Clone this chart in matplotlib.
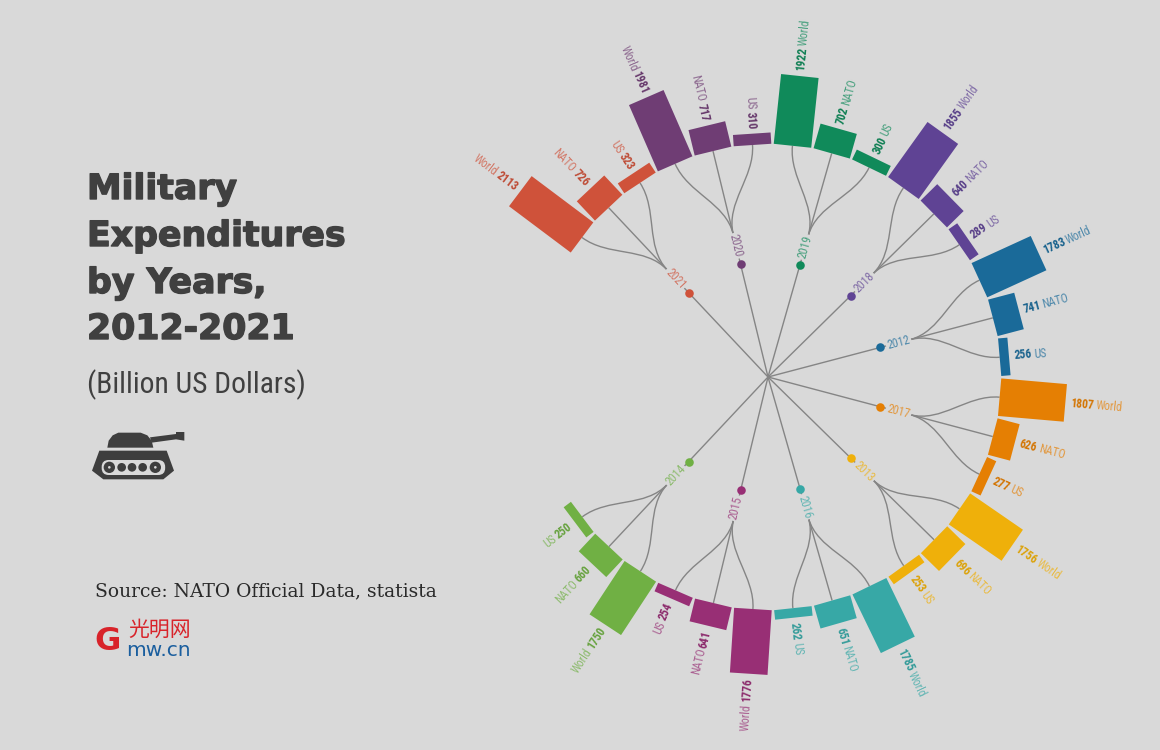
import math
import matplotlib
matplotlib.use("Agg")
import matplotlib.pyplot as plt
import matplotlib.patheffects as pe
from matplotlib import font_manager as fm
from matplotlib.patches import Circle, FancyBboxPatch, PathPatch, Polygon
from matplotlib.path import Path
from matplotlib.textpath import TextPath

# clockwise order round the circle, starting at the upper right
years = [2012, 2017, 2013, 2016, 2015, 2014, 2021, 2020, 2019, 2018]
world = [1783, 1807, 1756, 1785, 1776, 1750, 2113, 1981, 1922, 1855]
nato = [741, 626, 696, 651, 641, 660, 726, 717, 702, 640]
us = [256, 277, 253, 262, 254, 250, 323, 310, 300, 289]
names = ["World", "NATO", "US"]
colors = ["#1a6a99", "#e57f03", "#efb00a", "#37a8a6", "#982f75",
          "#70b044", "#cf523a", "#6f3d74", "#108a5a", "#5f4394"]
title_lines = ["Military", "Expenditures", "by Years,", "2012-2021"]

BG = "#d9d9d9"
GREY = "#858585"
CX, CY = 768, 377
R_NODE, R_LINK, R_BAR = 116, 147, 232.5
BAR_W = 37.7
PX_PER_UNIT = 0.0365
STEP = 9.86
START = -24.6
GAP = 64.0

installed = {f.name for f in fm.fontManager.ttflist}
narrow = "Roboto"
for cand in ["Roboto Condensed", "Liberation Sans Narrow", "Roboto"]:
    if cand in installed:
        narrow = cand
        break


def polar(r, a):
    t = math.radians(a)
    return CX + r * math.cos(t), CY + r * math.sin(t)


def text_w(s, size, weight):
    fp = fm.FontProperties(family=narrow, weight=weight)
    return TextPath((0, 0), s, size=size, prop=fp).get_extents().width * 100 / 72


def text_rot(a):
    # keep the label readable on the left half
    if math.cos(math.radians(a)) >= 0:
        return -a, "left"
    return 180 - a, "right"


def rgb_mix(c, k):
    rgb = matplotlib.colors.to_rgb(c)
    bg = matplotlib.colors.to_rgb(BG)
    return tuple(k * x + (1 - k) * y for x, y in zip(rgb, bg))


def rgb_dark(c, k):
    return tuple(x * k for x in matplotlib.colors.to_rgb(c))


fig = plt.figure(figsize=(11.6, 7.5), dpi=100, facecolor=BG)
ax = fig.add_axes([0, 0, 1, 1])
ax.set_xlim(0, 1160)
ax.set_ylim(750, 0)
ax.axis("off")

for g, year in enumerate(years):
    vals = [world[g], nato[g], us[g]]
    col = colors[g]
    base = START + g * 3 * STEP
    if g >= 6:
        base += GAP
    mid = base + STEP

    # trunk, node and year label
    x0, y0 = polar(R_LINK - 5, mid)
    ax.plot([CX, x0], [CY, y0], color=GREY, lw=1.0, zorder=1)
    nx, ny = polar(R_NODE, mid)
    ax.scatter([nx], [ny], s=38, color=col, zorder=4, linewidths=0)
    rot, _ = text_rot(mid)
    lx, ly = polar(135, mid)
    ax.text(lx, ly, str(year), rotation=rot, rotation_mode="anchor", ha="center",
            va="center", fontsize=8.6, family=narrow, color=rgb_mix(col, 0.72), zorder=3,
            bbox=dict(facecolor=BG, edgecolor="none", pad=1.0))

    for i, v in enumerate(vals):
        a = base + i * STEP
        # radial link from the year to the bar
        dr = R_BAR - R_LINK
        pts = [polar(R_LINK, mid), polar(R_LINK + 0.38 * dr, mid),
               polar(R_BAR - 0.38 * dr, a), polar(R_BAR, a)]
        link = Path(pts, [Path.MOVETO, Path.CURVE4, Path.CURVE4, Path.CURVE4])
        ax.add_patch(PathPatch(link, fc="none", ec=GREY, lw=1.0, zorder=1))

        # the bar is a plain rectangle turned to the angle
        length = v * PX_PER_UNIT
        t = math.radians(a)
        ux, uy = math.cos(t), math.sin(t)
        vx, vy = -uy, ux
        bx, by = CX + R_BAR * ux, CY + R_BAR * uy
        hw = BAR_W / 2
        corners = [(bx - vx * hw, by - vy * hw),
                   (bx + vx * hw, by + vy * hw),
                   (bx + vx * hw + ux * length, by + vy * hw + uy * length),
                   (bx - vx * hw + ux * length, by - vy * hw + uy * length)]
        ax.add_patch(Polygon(corners, closed=True, fc=col, ec="none", zorder=2))

        # value in bold next to the bar, then the name
        rot, ha = text_rot(a)
        fs = 8.4
        r1 = R_BAR + length + 5
        tx, ty = polar(r1, a)
        ax.text(tx, ty, str(v), rotation=rot, rotation_mode="anchor", ha=ha, va="center",
                fontsize=fs, fontweight="bold", family=narrow, color=rgb_dark(col, 0.92), zorder=3)
        r2 = r1 + text_w(str(v), fs, "bold") + 3
        tx, ty = polar(r2, a)
        ax.text(tx, ty, names[i], rotation=rot, rotation_mode="anchor", ha=ha, va="center",
                fontsize=fs, family=narrow, color=rgb_mix(col, 0.72), zorder=3)

# left hand text
title_y = [199, 246, 293, 339]
for s, y in zip(title_lines, title_y):
    ax.text(87, y, s, fontsize=25, fontweight="bold", family="DejaVu Sans",
            color="#404040", va="baseline", ha="left",
            path_effects=[pe.withStroke(linewidth=1.0, foreground="#404040")])
ax.text(87, 393, "(Billion US Dollars)", fontsize=21.3, family=narrow, color="#404040",
        va="baseline", ha="left")
ax.text(95, 591, "Source: NATO Official Data, statista", fontsize=13.5, family="DejaVu Serif",
        color="#2a2a2a", va="center", ha="left")

# tank icon, coordinates are in a 3x grid of the icon area
DARK = "#3e3e3e"


def tk(x, y):
    return 70 + x / 3, 410 + y / 3


ax.add_patch(Polygon([tk(*p) for p in [(112, 113), (116, 92), (128, 76), (145, 68), (212, 68),
                                       (232, 76), (245, 92), (250, 113)]], fc=DARK, ec="none"))
ax.add_patch(Polygon([tk(*p) for p in [(240, 82), (318, 72), (318, 66), (343, 66), (343, 92),
                                       (318, 88), (245, 98)]], fc=DARK, ec="none"))
ax.add_patch(Polygon([tk(*p) for p in [(88, 122), (290, 122), (312, 182), (280, 208), (100, 208),
                                       (66, 182)]], fc=DARK, ec="none"))
sx, sy = tk(95, 150)
ax.add_patch(FancyBboxPatch((sx, sy), 63.5, 15, boxstyle="round,pad=0,rounding_size=7",
                            fc=BG, ec="none", zorder=2))
for wx, rr in zip([118, 155, 186, 218, 256], [17, 13, 13, 13, 17]):
    px, py = tk(wx, 172)
    ax.add_patch(Circle((px, py), rr / 3, fc=DARK, ec="none", zorder=3))
for wx in [118, 256]:
    px, py = tk(wx, 172)
    ax.add_patch(Circle((px, py), 1.3, fc=BG, ec="none", zorder=4))

# logo
ax.text(94, 642, "G", fontsize=23, fontweight="bold", family="DejaVu Sans", color="#d8232a",
        va="center", ha="left")
ax.text(160, 630, "光明网", fontsize=15, family=["Noto Sans CJK SC", "DejaVu Sans"], color="#d8232a",
        va="center", ha="center")
ax.text(158, 651, "mw.cn", fontsize=14.5, family="DejaVu Sans", color="#1a5e9e",
        va="center", ha="center")

fig.savefig("out.png", dpi=100, facecolor=BG)
